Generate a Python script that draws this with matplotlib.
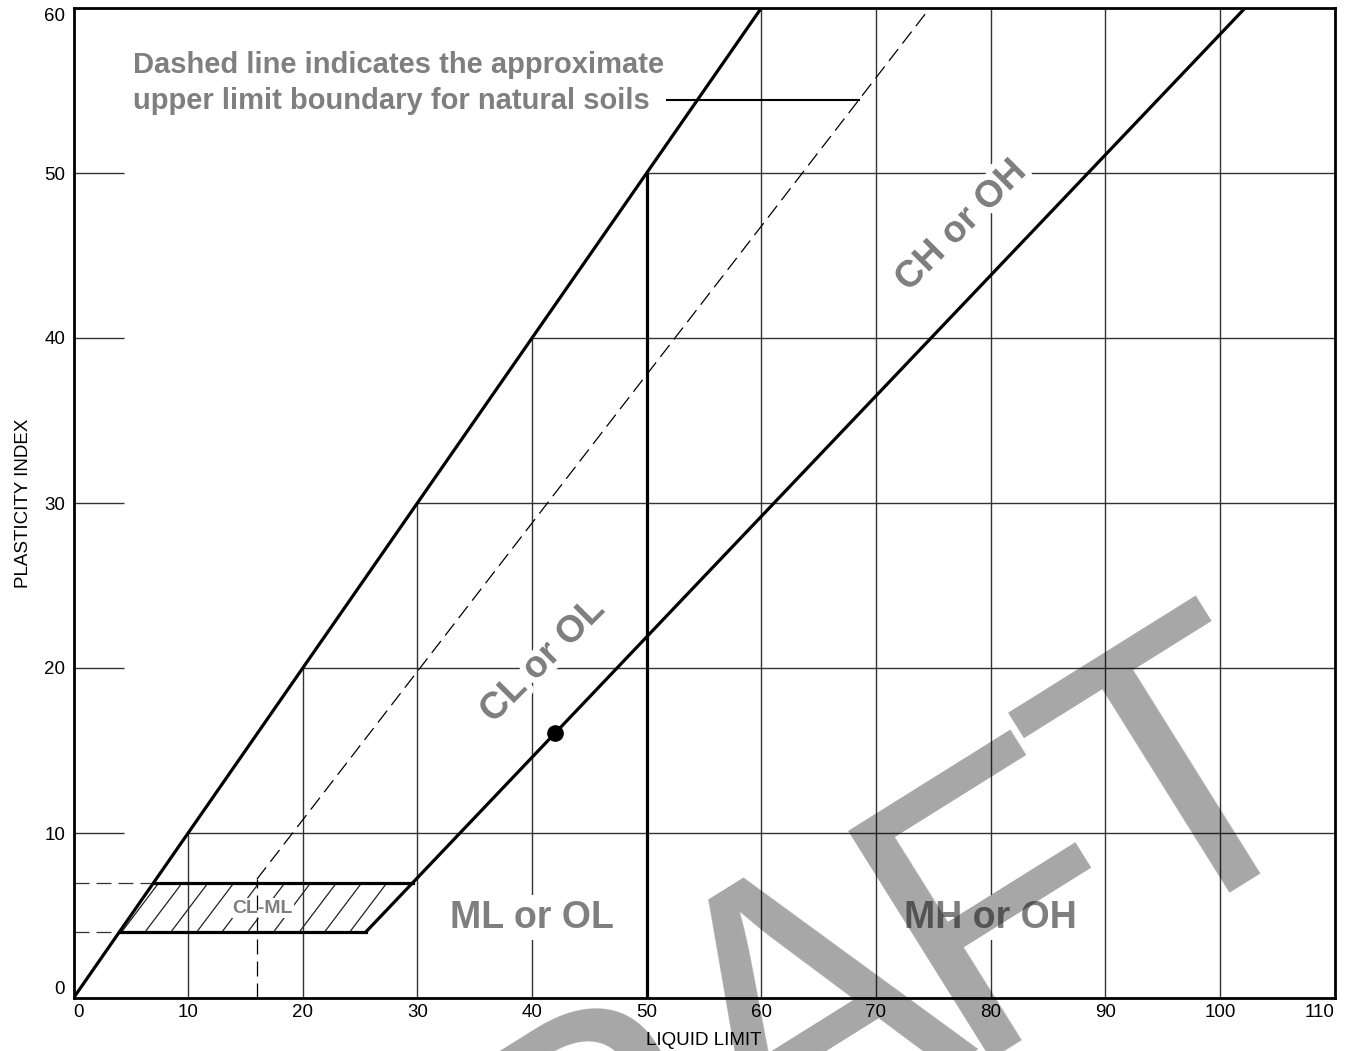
import matplotlib
matplotlib.use('Agg')
import matplotlib.pyplot as plt
import matplotlib.patheffects as pe
from matplotlib.patches import Polygon
import numpy as np

plt.rcParams['font.family'] = ['Liberation Sans', 'DejaVu Sans']

# ---------------- data ----------------
LL_TICKS = [0, 10, 20, 30, 40, 50, 60, 70, 80, 90, 100, 110]
PI_TICKS = [0, 10, 20, 30, 40, 50, 60]

# upper boundary line (PI = LL)
UPPER_LL = [0, 60]
UPPER_PI = [0, 60]
# A-line
A_LL = [25.5, 102.2]
A_PI = [4, 60]
# U-line (dashed, natural soils upper limit)
U_LL = [16, 74.7]
U_PI = [7.2, 60]
# LL = 50 divider
DIV_LL = [50, 50]
DIV_PI = [0, 50]
# CL-ML zone corners
CLML_LL = [4, 25.5, 29.6, 7]
CLML_PI = [4, 4, 7, 7]
# hatch lines (bottom x positions) and slope
HATCH_X0 = [2.0, 4.2, 6.24, 8.5, 10.75, 12.95, 15.2, 17.45, 19.7, 21.9, 24.1, 26.3]
HATCH_SLOPE = 0.92
# marked point on A-line
PT_LL = [42]
PT_PI = [16.06]
# leader line of the note
NOTE_LL = [51.8, 68.5]
NOTE_PI = [54.4, 54.4]

ZONE_LABELS = ["CL or OL", "CH or OH", "ML or OL", "MH or OH"]
ZONE_X = [40.9, 77.4, 40.0, 80.0]
ZONE_Y = [20.45, 46.8, 4.85, 4.85]
ZONE_ROT = [45, 45, 0, 0]

NOTE_TEXT = "Dashed line indicates the approximate\nupper limit boundary for natural soils"

# watermark letters and their baseline centres (pixels from top-left)
WM_LETTERS = ["D", "R", "A", "F", "T"]
WM_X_PX = [443, 659, 868, 1060, 1244]
WM_Y_PX = [1389, 1250, 1118, 995, 879]

GREY = (0, 0, 0, 0.5)
W, H = 1346, 1051

fig = plt.figure(figsize=(W / 100, H / 100), dpi=100)
ax = fig.add_axes([73.5 / W, 53 / H, 1261 / W, 990 / H])
ax.set_xlim(0, 110)
ax.set_ylim(0, 60)

for s in ax.spines.values():
    s.set_linewidth(2.0)
    s.set_color('black')
    s.set_zorder(6)

# grid lines (only region PI <= LL)
for k in LL_TICKS[1:-1]:
    ax.plot([k, k], [0, min(k, 60)], color='#333333', lw=1.0, zorder=1)
for k in PI_TICKS[1:-1]:
    ax.plot([k, 110], [k, k], color='#333333', lw=1.0, zorder=1)

ax.set_xticks(LL_TICKS)
ax.set_xticklabels([str(v) for v in LL_TICKS])
ax.set_yticks(PI_TICKS)
ax.set_yticklabels([str(v) for v in PI_TICKS])
ax.tick_params(axis='x', length=0, pad=4, labelsize=13.5)
ax.tick_params(axis='y', direction='in', length=36, width=1.0, color='#333333',
               pad=6, labelsize=13.5)
xl = ax.get_xticklabels()
xl[0].set_ha('left')
xl[-1].set_ha('right')
yl = ax.get_yticklabels()
yl[0].set_va('bottom')
yl[-1].set_va('top')

ax.set_xlabel("LIQUID LIMIT", fontsize=13.5, labelpad=8)
ax.set_ylabel("PLASTICITY INDEX", fontsize=13.5, labelpad=9)

# hatch in CL-ML zone
poly = Polygon(np.column_stack([CLML_LL, CLML_PI]), closed=True,
               facecolor='none', edgecolor='none')
ax.add_patch(poly)
for x0 in HATCH_X0:
    ln, = ax.plot([x0, x0 + 3 / HATCH_SLOPE], [4, 7], color='#222222', lw=0.9, zorder=2)
    ln.set_clip_path(poly)

# dashed lines
dash = (0, (12, 5.6))
ax.plot(U_LL, U_PI, color='black', lw=0.9, linestyle=dash, zorder=2)
ax.plot([U_LL[0], U_LL[0]], [0, U_PI[0]], color='black', lw=0.9, linestyle=dash, zorder=5.5)
ax.plot([0, CLML_LL[0]], [CLML_PI[0], CLML_PI[0]], color='#333333', lw=0.9, linestyle=dash, zorder=2)
ax.plot([0, CLML_LL[3]], [CLML_PI[3], CLML_PI[3]], color='#333333', lw=0.9, linestyle=dash, zorder=2)

# thick boundaries
ax.plot(UPPER_LL, UPPER_PI, color='black', lw=2.3, zorder=4, solid_capstyle='butt')
ax.plot(A_LL, A_PI, color='black', lw=2.3, zorder=4, solid_capstyle='butt')
ax.plot(DIV_LL, DIV_PI, color='black', lw=2.3, zorder=4, solid_capstyle='butt')
ax.plot(CLML_LL[:2], CLML_PI[:2], color='black', lw=2.3, zorder=4)
ax.plot(CLML_LL[2:], CLML_PI[2:], color='black', lw=2.3, zorder=4)
ax.plot(PT_LL, PT_PI, 'o', color='black', markersize=11, zorder=5)

# note
ax.plot(NOTE_LL, NOTE_PI, color='black', lw=1.5, zorder=4)
ax.text(5.2, 55.45, NOTE_TEXT, fontsize=21, fontweight='bold', color=GREY,
        ha='left', va='center', linespacing=1.38, zorder=5)

# zone labels
for lab, x, y, r in zip(ZONE_LABELS, ZONE_X, ZONE_Y, ZONE_ROT):
    if r == 0:
        ax.text(x, y, lab, fontsize=27, fontweight='bold', color=GREY, ha='center',
                va='center', rotation=r, zorder=5,
                bbox=dict(boxstyle='square,pad=0.12', facecolor='white', edgecolor='none'))
    else:
        ax.text(x, y, lab, fontsize=27, fontweight='bold', color=GREY, ha='center',
                va='center', rotation=r, rotation_mode='anchor', zorder=5,
                path_effects=[pe.withStroke(linewidth=9, foreground='white')])
ax.text(16.5, 5.45, "CL-ML", fontsize=14, fontweight='bold', color=GREY,
        ha='center', va='center', zorder=5,
        bbox=dict(boxstyle='square,pad=0.08', facecolor='white', edgecolor='none'))

# watermark, letter by letter
for ch, px, py in zip(WM_LETTERS, WM_X_PX, WM_Y_PX):
    fig.text(px / W, 1 - py / H, ch, fontsize=282, rotation=32, rotation_mode='anchor',
             ha='center', va='baseline', color=(0, 0, 0, 0.35), zorder=10)

fig.savefig("out.png", dpi=100)
